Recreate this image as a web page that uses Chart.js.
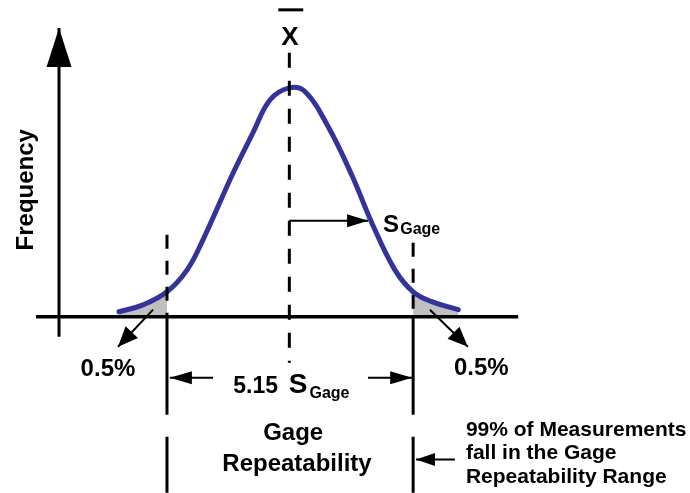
<!DOCTYPE html>
<html>
<head>
<meta charset="utf-8">
<title>Gage Repeatability</title>
<script src="https://cdn.jsdelivr.net/npm/chart.js@4.4.1/dist/chart.umd.min.js"></script>
<style>
  html, body { margin: 0; padding: 0; background: #fff; }
  #wrap { width: 690px; height: 493px; }
</style>
</head>
<body>
<div id="wrap"><canvas id="chart" width="690" height="493"></canvas></div>
<script>
// horizontal: distance from the mean in S_Gage units, vertical: relative frequency (peak = 1)
const curveX = [-3.55, -3.05, -2.55, -2.13, -1.80, -1.17, -0.76, -0.40, 0,
                0.33, 0.81, 1.31, 1.72, 2.20, 2.58, 2.97, 3.52];
const curveY = [0.022, 0.052, 0.109, 0.205, 0.336, 0.629, 0.803, 0.948, 1.000,
                0.983, 0.830, 0.615, 0.410, 0.205, 0.109, 0.066, 0.031];

const tailLimits = [-2.55, 2.58];          // the ±2.575 S_Gage limits (0.5 % each side)
const axisXRange = [-5.28, 4.77];
const axisYPos   = -4.80;
const axisYRange = [-0.087, 1.262];
const meanRange  = [1.153, -0.201];
const limitTops  = [0.358, 0.323];
const limitLow   = [[0, -0.428], [-0.524, -0.769]];
const xbarRange  = [-0.23, 0.29];
const xbarLevel  = 1.341;

// arrows: [x0, y0, x1, y1] (the head is at the second point)
const arrowSigma  = [0, 0.419, 1.64, 0.419];
const arrowSpanL  = [-1.59, -0.266, -2.49, -0.266];
const arrowSpanR  = [1.64, -0.266, 2.56, -0.266];
const arrowTailL  = [-2.84, 0.031, -3.57, -0.131];
const arrowTailR  = [2.93, 0.031, 3.72, -0.131];
const arrowRange  = [3.45, -0.624, 2.64, -0.624];

const labels = [
  { text: 'X', x: 0.01, y: 1.188, size: 26, align: 'center' },
  { text: 'Frequency', x: -5.34, y: 0.555, size: 24, align: 'center', rotate: true },
  { text: 'S', x: 1.95, y: 0.371, size: 24 },
  { text: 'Gage', x: 2.31, y: 0.362, size: 16 },
  { text: '0.5%', x: -3.78, y: -0.258, size: 24, align: 'center' },
  { text: '0.5%', x: 4.00, y: -0.254, size: 24, align: 'center' },
  { text: '5.15', x: -1.17, y: -0.332, size: 23 },
  { text: 'S', x: -0.01, y: -0.332, size: 28 },
  { text: 'Gage', x: 0.42, y: -0.356, size: 16 },
  { text: 'Gage', x: 0.08, y: -0.537, size: 24, align: 'center' },
  { text: 'Repeatability', x: 0.16, y: -0.675, size: 24, align: 'center' },
  { text: '99% of Measurements', x: 3.68, y: -0.520, size: 21 },
  { text: 'fall in the Gage', x: 3.68, y: -0.620, size: 21 },
  { text: 'Repeatability Range', x: 3.68, y: -0.725, size: 21 }
];

const BLACK = '#000000';
const CURVE = '#333399';
const TAIL  = '#c0c0c0';
const FONT  = '"Liberation Sans", Arial, sans-serif';

function seg(x0, y0, x1, y1) {
  return [{ x: x0, y: y0 }, { x: x1, y: y1 }];
}

function lineSet(data, extra) {
  return Object.assign({
    data: data,
    borderColor: BLACK,
    borderWidth: 3,
    pointRadius: 0,
    fill: false,
    order: 1,
  }, extra || {});
}

function arrowSet(a, head) {
  return lineSet(seg(a[0], a[1], a[2], a[3]), { borderWidth: 2, head: head });
}

const arrowHeads = {
  id: 'arrowHeads',
  afterDatasetsDraw(chart) {
    const ctx = chart.ctx;
    chart.data.datasets.forEach((ds, i) => {
      if (!ds.head) return;
      const pts = chart.getDatasetMeta(i).data;
      const a = pts[pts.length - 2], b = pts[pts.length - 1];
      const ang = Math.atan2(b.y - a.y, b.x - a.x);
      const [len, half] = ds.head;
      ctx.save();
      ctx.translate(b.x, b.y);
      ctx.rotate(ang);
      ctx.beginPath();
      ctx.moveTo(0, 0);
      ctx.lineTo(-len, -half);
      ctx.lineTo(-len, half);
      ctx.closePath();
      ctx.fillStyle = ds.borderColor;
      ctx.fill();
      ctx.restore();
    });
  }
};

const textLabels = {
  id: 'textLabels',
  afterDraw(chart) {
    const { ctx, scales: { x, y } } = chart;
    ctx.save();
    ctx.fillStyle = BLACK;
    ctx.textBaseline = 'alphabetic';
    labels.forEach(l => {
      ctx.font = `bold ${l.size}px ${FONT}`;
      ctx.textAlign = l.align || 'left';
      const px = x.getPixelForValue(l.x), py = y.getPixelForValue(l.y);
      if (l.rotate) {
        ctx.save();
        ctx.translate(px, py);
        ctx.rotate(-Math.PI / 2);
        ctx.fillText(l.text, 0, 0);
        ctx.restore();
      } else {
        ctx.fillText(l.text, px, py);
      }
    });
    ctx.restore();
  }
};

const datasets = [
  {
    data: curveX.map((v, i) => ({ x: v, y: curveY[i] })),
    borderColor: CURVE,
    borderWidth: 5,
    borderCapStyle: 'round',
    pointRadius: 0,
    tension: 0.4,
    fill: 'origin',
    backgroundColor: 'rgba(0,0,0,0)',
    segment: {
      backgroundColor: c =>
        (c.p1.parsed.x <= tailLimits[0] + 1e-9 || c.p0.parsed.x >= tailLimits[1] - 1e-9) ? TAIL : undefined
    },
    order: 5,
  },
  lineSet(seg(axisXRange[0], 0, axisXRange[1], 0), { borderWidth: 3.5 }),
  lineSet(seg(axisYPos, axisYRange[0], axisYPos, axisYRange[1]), { head: [39, 12.5] }),
  lineSet(seg(0, meanRange[0], 0, meanRange[1]), { borderDash: [15, 13] }),
  lineSet(seg(tailLimits[0], limitTops[0], tailLimits[0], 0), { borderDash: [14, 12] }),
  lineSet(seg(tailLimits[1], limitTops[1], tailLimits[1], 0), { borderDash: [14, 12] }),
  lineSet(seg(tailLimits[0], limitLow[0][0], tailLimits[0], limitLow[0][1])),
  lineSet(seg(tailLimits[0], limitLow[1][0], tailLimits[0], limitLow[1][1])),
  lineSet(seg(tailLimits[1], limitLow[0][0], tailLimits[1], limitLow[0][1])),
  lineSet(seg(tailLimits[1], limitLow[1][0], tailLimits[1], limitLow[1][1])),
  lineSet(seg(xbarRange[0], xbarLevel, xbarRange[1], xbarLevel)),
  arrowSet(arrowSigma, [21, 6.5]),
  arrowSet(arrowSpanL, [22, 6.5]),
  arrowSet(arrowSpanR, [22, 6.5]),
  arrowSet(arrowTailL, [20, 8.5]),
  arrowSet(arrowTailR, [20, 8.5]),
  arrowSet(arrowRange, [19, 6.5]),
];

new Chart(document.getElementById('chart'), {
  type: 'line',
  data: { datasets: datasets },
  options: {
    responsive: false,
    devicePixelRatio: 1,
    animation: false,
    events: [],
    layout: { padding: 0 },
    elements: { point: { radius: 0 } },
    plugins: {
      legend: { display: false },
      tooltip: { enabled: false },
    },
    scales: {
      x: { type: 'linear', min: -6.03, max: 8.35, display: false },
      y: { type: 'linear', min: -0.77, max: 1.384, display: false },
    },
  },
  plugins: [arrowHeads, textLabels],
});
</script>
</body>
</html>
